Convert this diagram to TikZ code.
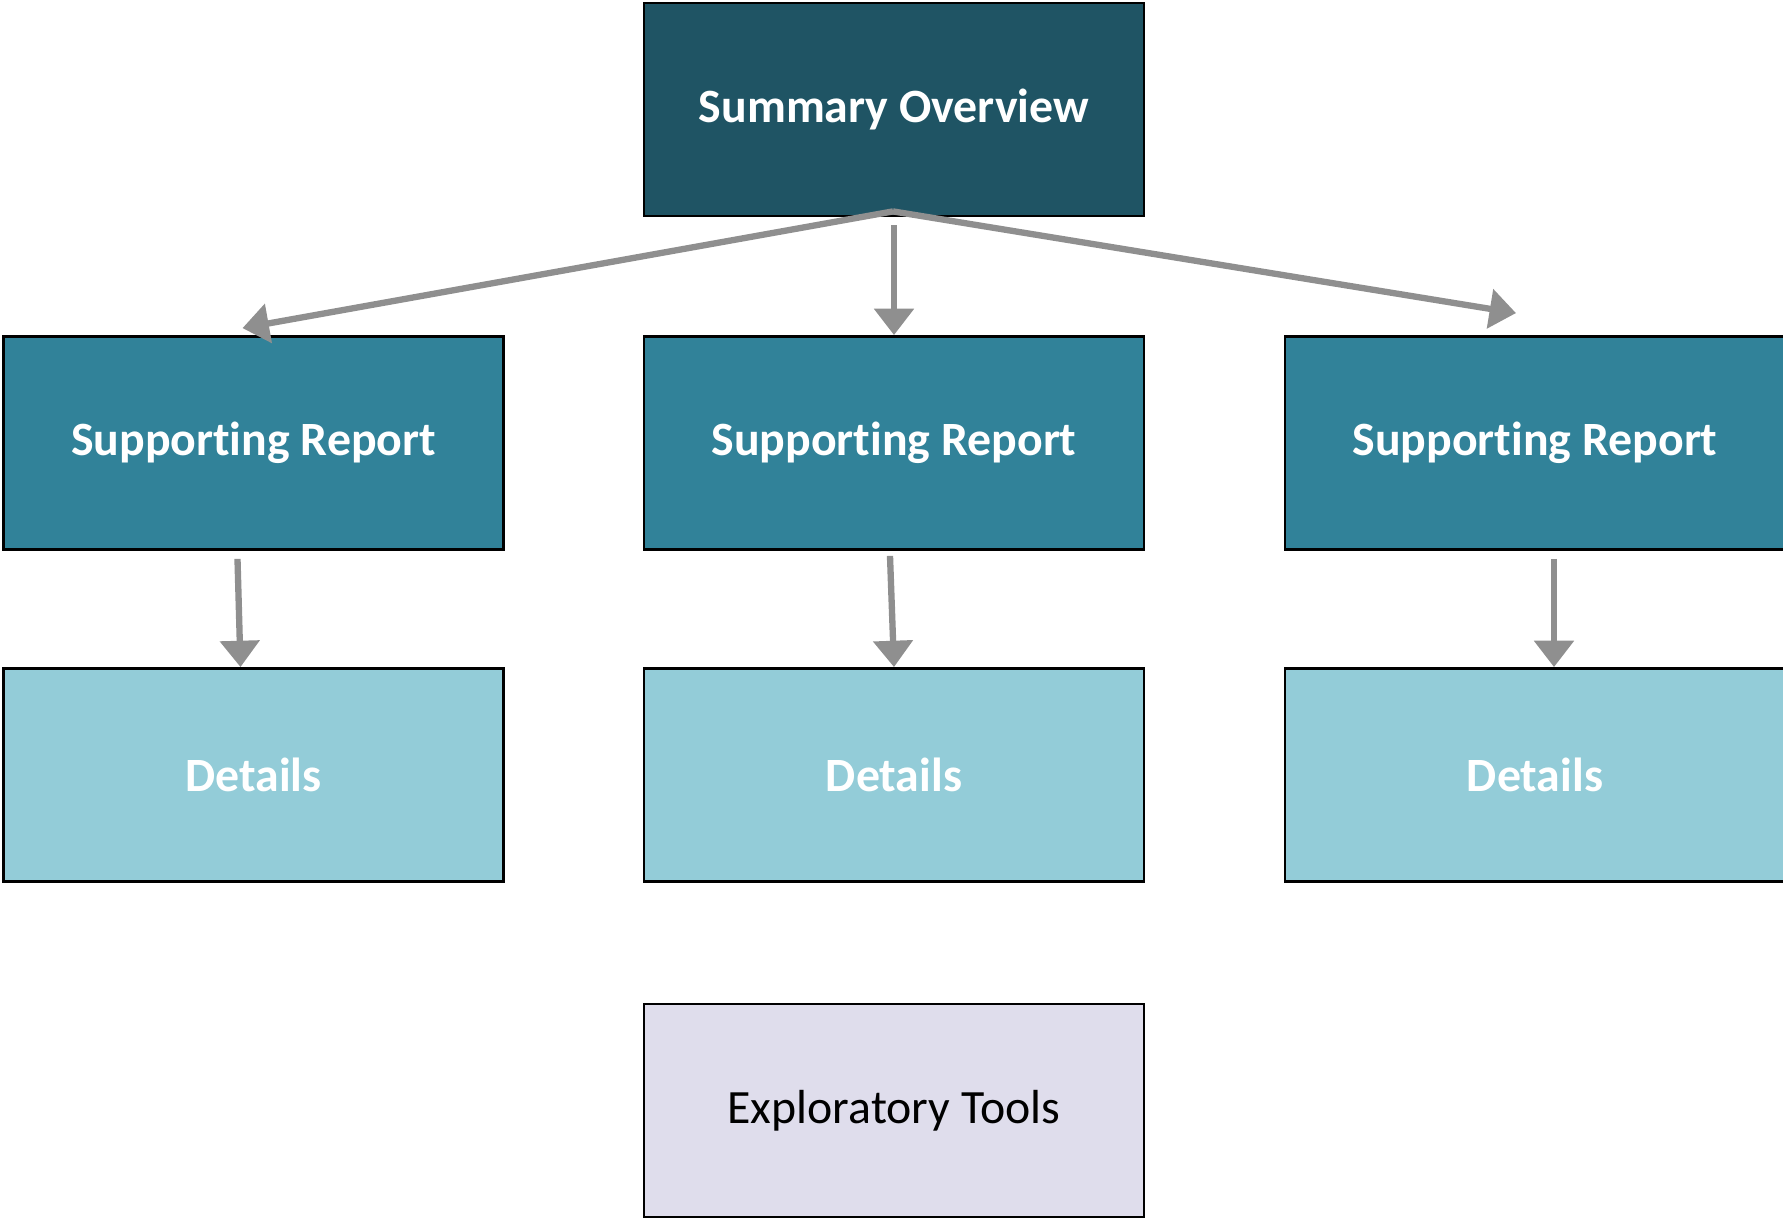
\documentclass[tikz,border=0pt]{standalone}
\usepackage{fontspec}
\setmainfont[Ligatures=NoCommon]{Carlito}
\definecolor{TopTeal}{HTML}{1F5464}
\definecolor{MidTeal}{HTML}{318299}
\definecolor{LightTeal}{HTML}{93CCD8}
\definecolor{ToolLilac}{HTML}{DFDDEC}
\definecolor{LinkGrey}{HTML}{8F8F8F}
\usetikzlibrary{arrows.meta, positioning}

\begin{document}
\begin{tikzpicture}[>={Triangle[width=11pt, length=7.5pt]},
    panel/.style={draw=black, line width=0.8pt,
                  minimum width=5cm, minimum height=2.13cm,
                  font=\fontsize{13.6}{16}\selectfont, align=center},
    link/.style={->, line width=1.8pt, LinkGrey}]
  \useasboundingbox (0,0) rectangle (17.83,12.2);

  % Top level
  \node[panel, fill=TopTeal, text=white, font=\fontsize{13.6}{16}\selectfont\bfseries]
    (sum) at (8.94,11.105) {Summary Overview};

  % Supporting reports
  \node[panel, fill=MidTeal, text=white, font=\fontsize{13.6}{16}\selectfont\bfseries]
    (rep1) at (2.535,7.77) {Supporting Report};
  \node[panel, fill=MidTeal, text=white, font=\fontsize{13.6}{16}\selectfont\bfseries]
    (rep2) at (8.94,7.77) {Supporting Report};
  \node[panel, fill=MidTeal, text=white, font=\fontsize{13.6}{16}\selectfont\bfseries]
    (rep3) at (15.35,7.77) {Supporting Report};

  % Details
  \node[panel, fill=LightTeal, text=white, font=\fontsize{13.6}{16}\selectfont\bfseries]
    (det1) at (2.535,4.45) {Details};
  \node[panel, fill=LightTeal, text=white, font=\fontsize{13.6}{16}\selectfont\bfseries]
    (det2) at (8.94,4.45) {Details};
  \node[panel, fill=LightTeal, text=white, font=\fontsize{13.6}{16}\selectfont\bfseries]
    (det3) at (15.35,4.45) {Details};

  % Tools
  \node[panel, fill=ToolLilac, text=black] (tools) at (8.94,1.095) {Exploratory Tools};

  % Fan out from the summary
  \coordinate (fan) at ([xshift=-0.01cm, yshift=0.06cm]sum.south);
  \draw[link] (fan) -- ([xshift=-0.11cm, yshift=0.07cm]rep1.north);
  \draw[link] (fan) -- ([xshift=-0.19cm, yshift=0.22cm]rep3.north);
  \draw[link] ([yshift=-0.08cm]sum.south) -- (rep2.north);

  % Reports to details
  \draw[link] ([xshift=-0.16cm, yshift=-0.08cm]rep1.south) -- ([xshift=-0.13cm]det1.north);
  \draw[link] ([xshift=-0.04cm, yshift=-0.05cm]rep2.south) -- (det2.north);
  \draw[link] ([xshift=0.19cm, yshift=-0.08cm]rep3.south) -- ([xshift=0.19cm]det3.north);
\end{tikzpicture}
\end{document}
